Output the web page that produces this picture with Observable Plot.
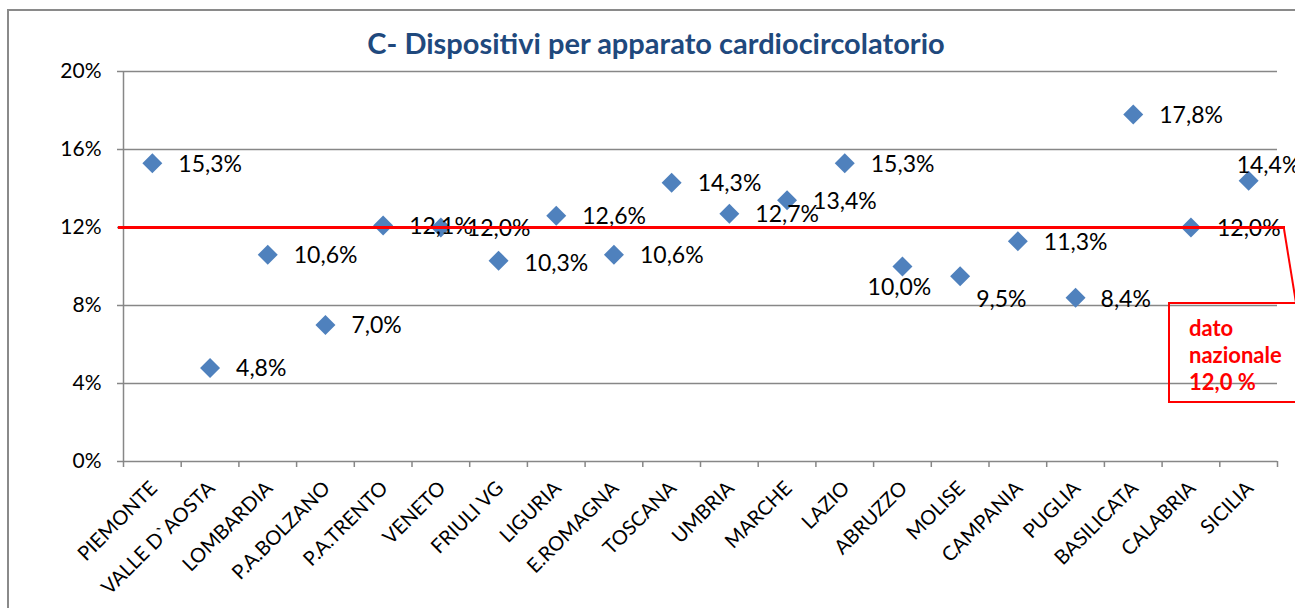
<!DOCTYPE html>
<html>
<head>
<meta charset="utf-8">
<script src="https://cdn.jsdelivr.net/npm/d3@7"></script>
<script src="https://cdn.jsdelivr.net/npm/@observablehq/plot@0.6"></script>
<style>
  html, body { margin: 0; padding: 0; background: #fff; }
  #wrap { position: relative; width: 1295px; height: 608px; overflow: hidden; font-family: Lato, "Open Sans", sans-serif; }
  #border { position: absolute; left: 7px; top: 9px; width: 1400px; height: 700px; border-left: 2px solid #8a8a8a; border-top: 2px solid #8a8a8a; }
  #title { position: absolute; left: 0; top: 28px; width: 1312px; text-align: center; font: bold 29px Lato, sans-serif; line-height: 1; color: #1F497D; }
  #chart { position: absolute; left: 0; top: 0; }
  #overlay { position: absolute; left: 0; top: 0; pointer-events: none; }
  #callout { position: absolute; left: 1168px; top: 302px; width: 150px; height: 97px; border: 2px solid #ff0000; box-sizing: content-box; }
  #callout div { padding: 10px 0 0 19px; font: bold 22px Lato, sans-serif; line-height: 27px; color: #ff0000; }
</style>
</head>
<body>
<div id="wrap">
  <div id="border"></div>
  <div id="chart"></div>
  <div id="title"></div>
  <svg id="overlay" width="1295" height="608"></svg>
  <div id="callout"><div id="calloutText"></div></div>
</div>
<script>
const title = "C- Dispositivi per apparato cardiocircolatorio";
const regions = ["PIEMONTE","VALLE D`AOSTA","LOMBARDIA","P.A.BOLZANO","P.A.TRENTO","VENETO","FRIULI VG","LIGURIA","E.ROMAGNA","TOSCANA","UMBRIA","MARCHE","LAZIO","ABRUZZO","MOLISE","CAMPANIA","PUGLIA","BASILICATA","CALABRIA","SICILIA"];
const values = [15.3, 4.8, 10.6, 7.0, 12.1, 12.0, 10.3, 12.6, 10.6, 14.3, 12.7, 13.4, 15.3, 10.0, 9.5, 11.3, 8.4, 17.8, 12.0, 14.4];
const yTicks = [0, 4, 8, 12, 16, 20];
const nationalValue = 12.0;
const nationalLines = ["dato", "nazionale"];

const fmt = v => v.toFixed(1).replace(".", ",") + "%";
const rows = regions.map((r, i) => ({region: r, value: values[i], pos: i + 0.5}));
const boundaries = d3.range(regions.length + 1);

// label placement groups
const special = {
  "ABRUZZO": {dx: -3, dy: 21, textAnchor: "middle"},
  "MOLISE": {dx: 16, dy: 23, textAnchor: "start"},
  "SICILIA": {dx: -12, dy: -15, textAnchor: "start"},
  "PUGLIA": {dx: 25, dy: 2, textAnchor: "start"},
  "FRIULI VG": {dx: 26, dy: 3, textAnchor: "start"}
};
const labelSize = 23;
const normalRows = rows.filter(d => !special[d.region]);
const specialMarks = Object.entries(special).map(([name, o]) =>
  Plot.text(rows.filter(d => d.region === name), {x: "pos", y: "value", text: d => fmt(d.value), fontSize: labelSize, fill: "#000", ...o})
);

const gray = "#878787";
const plot = Plot.plot({
  width: 1295,
  height: 608,
  marginLeft: 123,
  marginRight: 18,
  marginTop: 71,
  marginBottom: 147,
  style: {fontFamily: "Lato, sans-serif", color: "#000", background: "transparent", overflow: "visible"},
  x: {type: "linear", domain: [0, regions.length], label: null},
  y: {domain: [0, 20], label: null},
  marks: [
    Plot.gridY(yTicks, {stroke: gray, strokeOpacity: 1, strokeWidth: 1.5}),
    Plot.ruleX([0], {stroke: gray, strokeWidth: 1.5}),
    Plot.axisY(yTicks, {label: null, tickSize: 6, tickPadding: 16, tickFormat: d => d + "%", fontSize: 21, stroke: gray, strokeWidth: 1.5, fill: "#000"}),
    Plot.axisX(boundaries, {label: null, tickSize: 6, tickFormat: () => "", stroke: gray, strokeWidth: 1.5}),
    Plot.text(rows, {x: "pos", text: "region", frameAnchor: "bottom", rotate: -45, textAnchor: "end", dx: 6, dy: 28, fontSize: 20, fill: "#000"}),
    Plot.dot(rows, {x: "pos", y: "value", symbol: "diamond2", r: 9, fill: "#4F81BD", stroke: "none"}),
    Plot.text(normalRows, {x: "pos", y: "value", text: d => fmt(d.value), dx: 26, dy: 1, textAnchor: "start", fontSize: labelSize, fill: "#000"}),
    ...specialMarks,
    Plot.ruleY([nationalValue], {stroke: "#ff0000", strokeWidth: 3, insetLeft: -5, insetRight: -8})
  ]
});
document.getElementById("chart").appendChild(plot);
document.getElementById("title").textContent = title;

// callout
const yNat = plot.scale("y").apply(nationalValue);
const xEnd = plot.scale("x").apply(regions.length);
const ov = d3.select("#overlay");
ov.append("line").attr("x1", xEnd + 7).attr("y1", yNat + 2).attr("x2", 1296).attr("y2", 303)
  .attr("stroke", "#ff0000").attr("stroke-width", 2);
document.getElementById("calloutText").innerHTML =
  nationalLines.join("<br>") + "<br>" + nationalValue.toFixed(1).replace(".", ",") + " %";
</script>
</body>
</html>
